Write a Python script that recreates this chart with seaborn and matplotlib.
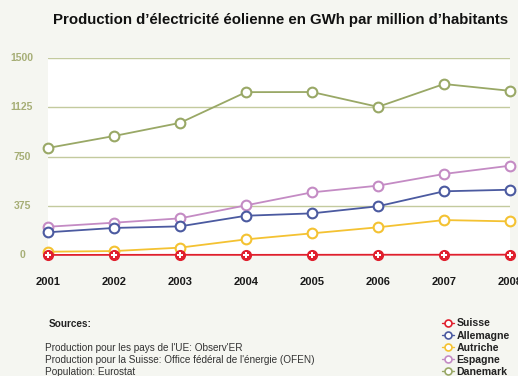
import numpy as np
import pandas as pd
import matplotlib
matplotlib.use("Agg")
import matplotlib.pyplot as plt
import matplotlib.transforms as mtrans
from matplotlib.lines import Line2D
import seaborn as sns

years = [2001, 2002, 2003, 2004, 2005, 2006, 2007, 2008]
suisse = [0.5, 1, 1.5, 1, 1.5, 2, 2, 2.5]
allemagne = [173, 206, 218, 299, 317, 371, 485, 497]
autriche = [25, 30, 56, 119, 165, 211, 266, 256]
espagne = [215, 246, 279, 378, 477, 528, 617, 680]
danemark = [815, 906, 1006, 1240, 1241, 1128, 1302, 1250]
countries = ["Suisse", "Allemagne", "Autriche", "Espagne", "Danemark"]
colors = ["#e01f2d", "#4b5aa0", "#f4c232", "#c48bc4", "#99a866"]
yticks = [0, 375, 750, 1125, 1500]

series = [suisse, allemagne, autriche, espagne, danemark]
df = pd.DataFrame({
    "year": np.tile(years, len(countries)),
    "value": np.concatenate(series),
    "country": np.repeat(countries, len(years)),
})

sns.set_style("white")
plt.rcParams["font.family"] = ["Liberation Sans", "DejaVu Sans"]

fig = plt.figure(figsize=(5.18, 3.76), dpi=100)
fig.patch.set_facecolor("#f5f6f1")
ax = fig.add_axes([48 / 518, 1 - 255 / 376, (510 - 48) / 518, (255 - 58) / 376])
ax.set_facecolor("white")

for y in yticks:
    ax.axhline(y, color="#c3ca9e", lw=1.0, zorder=1)

for name, col in reversed(list(zip(countries, colors))):
    sub = df[df["country"] == name]
    if name == "Suisse":
        sns.lineplot(data=sub, x="year", y="value", ax=ax, color=col, lw=1.3,
                     marker="o", markersize=7, markerfacecolor=col,
                     markeredgecolor=col, markeredgewidth=1.0, zorder=5,
                     clip_on=False, legend=False)
        ax.plot(sub["year"], sub["value"], ls="none", marker="P", markersize=5,
                markerfacecolor="white", markeredgecolor="white",
                markeredgewidth=0, zorder=6, clip_on=False)
    else:
        sns.lineplot(data=sub, x="year", y="value", ax=ax, color=col, lw=1.3,
                     marker="o", markersize=7, markerfacecolor="white",
                     markeredgecolor=col, markeredgewidth=1.5, zorder=4,
                     clip_on=False, legend=False)

ax.set_xlim(2001, 2008)
ax.set_ylim(0, 1500)
for s in ax.spines.values():
    s.set_visible(False)
ax.set_xlabel("")
ax.set_ylabel("")
ax.set_xticks(years)
ax.set_xticklabels([str(y) for y in years], fontsize=8, fontweight="bold",
                   color="#1a1a1a")
ax.tick_params(axis="x", length=0, pad=16)
ax.set_yticks(yticks)
ax.set_yticklabels([])
ax.tick_params(axis="y", length=0)
tr = mtrans.blended_transform_factory(fig.transFigure, ax.transData)
for y in yticks:
    ax.text(22 / 518, y, str(y), transform=tr, ha="center", va="center",
            fontsize=7.5, fontweight="bold", color="#a6ae76", clip_on=False)

fig.text(281 / 518, 1 - 20 / 376,
         "Production d’électricité éolienne en GWh par million d’habitants",
         ha="center", va="center", fontsize=10.8, fontweight="bold", color="#111111")

fig.text(49 / 518, 1 - 324 / 376, "Sources:", ha="left", va="center",
         fontsize=7.2, fontweight="bold", color="#222222")
src = ["Production pour les pays de l'UE: Observ'ER",
       "Production pour la Suisse: Office fédéral de l'énergie (OFEN)",
       "Population: Eurostat"]
for i, t in enumerate(src):
    fig.text(45 / 518, 1 - (348 + i * 12) / 376, t, ha="left", va="center",
             fontsize=7.2, color="#333333")

handles = [Line2D([0], [0], color=c, lw=1.0, marker="o", markersize=5,
                  markerfacecolor="white", markeredgecolor=c, markeredgewidth=1.2)
           for c in colors]
leg = fig.legend(handles, countries, loc="upper left",
                 bbox_to_anchor=(442 / 518, 1 - 318.5 / 376), frameon=False,
                 handlelength=1.1, handletextpad=0.25, labelspacing=0.2,
                 borderpad=0, borderaxespad=0, prop={"size": 7.6, "weight": "bold"})
for t in leg.get_texts():
    t.set_color("#222222")

fig.savefig("out.png", dpi=100, facecolor=fig.get_facecolor())
